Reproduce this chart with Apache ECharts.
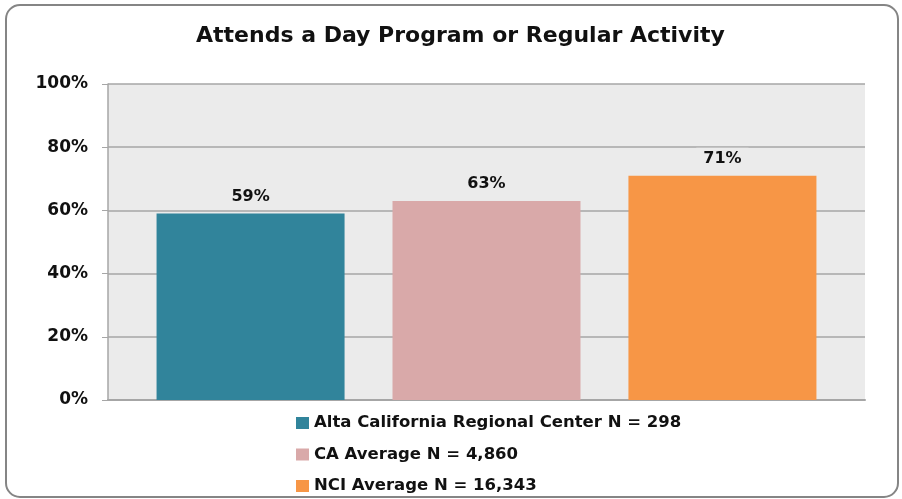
<!DOCTYPE html>
<html lang="en">
<head>
    <meta charset="UTF-8">
    <title>day program</title>
    <script src="https://cdn.jsdelivr.net/npm/echarts@6/dist/echarts.min.js"></script>
    <style>
        html, body { margin: 0; padding: 0; background: #fff; }
        #chart { width: 902px; height: 499px; }
    </style>
</head>
<body>
<div id="chart"></div>
<script type="application/javascript">
    // data
    var seriesNames = ['Alta California Regional Center N = 298', 'CA Average N = 4,860', 'NCI Average N = 16,343'];
    var seriesValues = [59, 63, 71];
    var seriesColors = ['#31849b', '#d9a9a9', '#f79646'];
    var yTicks = [0, 20, 40, 60, 80, 100];

    var font = '"DejaVu Sans", sans-serif';
    var chart = echarts.init(document.getElementById('chart'));

    var series = [];
    for (var i = 0; i < seriesNames.length; i++) {
        series.push({
            name: seriesNames[i],
            type: 'bar',
            data: [seriesValues[i]],
            barWidth: 188,
            barGap: '25.5%',
            itemStyle: { color: seriesColors[i] },
            label: {
                show: true,
                position: 'top',
                distance: 6,
                formatter: '{c}%',
                color: '#111',
                fontFamily: font,
                fontWeight: 'bold',
                fontSize: 16,
                backgroundColor: '#ebebeb',
                padding: [3, 7]
            }
        });
    }

    var option = {
        animation: false,
        title: {
            text: 'Attends a Day Program or Regular Activity',
            left: 191,
            top: 20,
            textStyle: { fontFamily: font, fontWeight: 'bold', fontSize: 22, color: '#111' }
        },
        graphic: [{
            type: 'rect',
            shape: { x: 6, y: 5, width: 892, height: 492, r: 14 },
            style: { fill: 'none', stroke: '#858585', lineWidth: 2 },
            z: -10
        }],
        legend: {
            orient: 'vertical',
            left: 291,
            top: 408,
            height: 100,
            itemWidth: 13,
            itemHeight: 12,
            itemGap: 11.5,
            icon: 'rect',
            textStyle: { fontFamily: font, fontWeight: 'bold', fontSize: 16.5, lineHeight: 20, color: '#111' }
        },
        grid: {
            left: 108, right: 37, top: 84, bottom: 99,
            show: true,
            backgroundColor: '#ebebeb',
            borderWidth: 0
        },
        xAxis: {
            type: 'category',
            data: [''],
            axisLine: { lineStyle: { color: '#a6a6a6', width: 2 } },
            axisTick: { show: false },
            axisLabel: { show: false }
        },
        yAxis: {
            type: 'value',
            min: yTicks[0],
            max: yTicks[yTicks.length - 1],
            interval: 20,
            axisLine: { show: true, lineStyle: { color: '#a6a6a6', width: 1.5 } },
            axisTick: { show: true, length: 6, lineStyle: { color: '#a6a6a6' } },
            axisLabel: {
                formatter: '{value}%',
                margin: 20,
                color: '#111',
                fontFamily: font,
                fontWeight: 'bold',
                fontSize: 17
            },
            splitLine: { lineStyle: { color: '#a6a6a6', width: 1.5 } }
        },
        series: series
    };
    chart.setOption(option);
</script>
</body>
</html>
